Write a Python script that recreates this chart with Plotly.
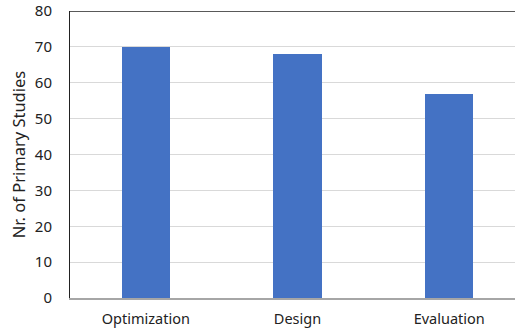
import plotly.graph_objects as go

categories = ["Optimization", "Design", "Evaluation"]
studies = [70, 68, 57]
y_ticks = [0, 10, 20, 30, 40, 50, 60, 70, 80]

FONT = "Noto Sans"
TEXT = "#222222"

fig = go.Figure(
    go.Bar(
        x=categories,
        y=studies,
        width=0.317,
        marker=dict(color="#4472C4", line=dict(width=0)),
        hoverinfo="x+y",
    )
)

fig.update_layout(
    width=515,
    height=332,
    margin=dict(l=70, r=0, t=11, b=34, pad=0),
    paper_bgcolor="white",
    plot_bgcolor="white",
    showlegend=False,
    font=dict(family=FONT, size=14, color=TEXT),
    bargap=0,
)

fig.update_xaxes(
    range=[-0.5, 2.434],
    showline=True,
    linecolor="#A6A6A6",
    linewidth=2,
    showgrid=False,
    ticks="",
    tickfont=dict(family=FONT, size=14.5, color=TEXT),
    ticklabelstandoff=7,
    automargin=False,
)

fig.update_yaxes(
    range=[0, 80],
    tickvals=y_ticks,
    showline=True,
    linecolor=TEXT,
    linewidth=1,
    showgrid=True,
    gridcolor="#D9D9D9",
    gridwidth=1,
    zeroline=False,
    ticks="",
    tickfont=dict(family=FONT, size=15, color=TEXT),
    ticklabelstandoff=14,
    title=dict(text="Nr. of Primary Studies", font=dict(family=FONT, size=16.5, color=TEXT), standoff=5),
    automargin=False,
)

# dark frame line along the top of the plot area
fig.add_shape(
    type="line", xref="paper", yref="y",
    x0=0, x1=1, y0=80, y1=80,
    line=dict(color=TEXT, width=1.5),
)

fig.write_html("out.html")
